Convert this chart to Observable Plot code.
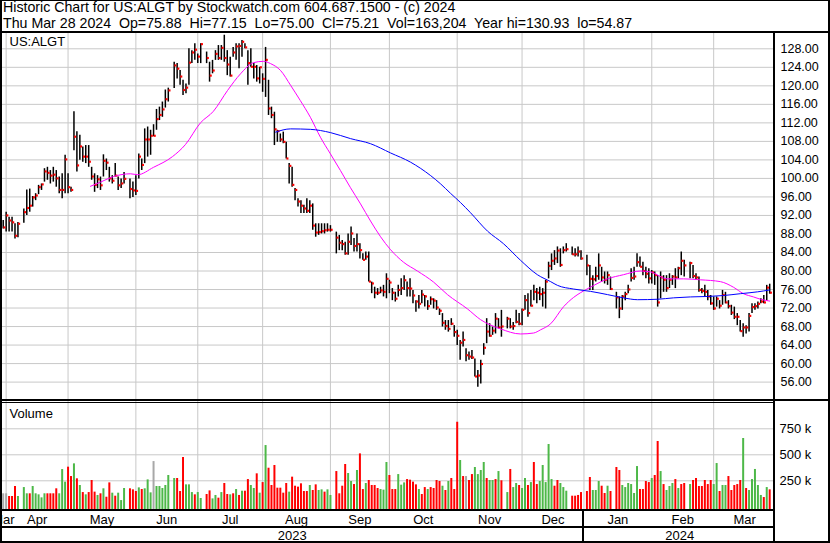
<!DOCTYPE html>
<html><head><meta charset="utf-8">
<script src="https://cdn.jsdelivr.net/npm/d3@7"></script>
<script src="https://cdn.jsdelivr.net/npm/@observablehq/plot@0.6"></script>
<style>
body{margin:0;background:#fff;}
#chart{position:relative;width:830px;height:543px;background:#fff;font-family:"Liberation Sans",Arial,sans-serif;overflow:hidden;}
#hdr{position:absolute;left:3px;top:-1px;font-size:14.2px;line-height:16px;white-space:pre;color:#000;}
.ln{position:absolute;background:#000;}
#price{position:absolute;left:0;top:31px;}
#vol{position:absolute;left:0;top:401px;}
</style></head><body>
<div id="chart">
<div id="hdr">Historic Chart for US:ALGT by Stockwatch.com 604.687.1500 - (c) 2024
Thu Mar 28 2024  Op=75.88  Hi=77.15  Lo=75.00  Cl=75.21  Vol=163,204  Year hi=130.93  lo=54.87</div>
<div id="price"></div><div id="vol"></div>
</div>
<script>
// ---- DATA (one entry per weekday from Thu Mar 30 2023 to Thu Mar 28 2024; null = market holiday)
const high = [
90.9,92.7,91.6,91.6,90.2,90.5,null,93.4,97.5,97.7,
96.1,96.7,98.5,98.8,102.1,102.4,101.7,102.4,101.7,100.3,
101.0,105.0,101.0,98.1,114.4,110.1,109.3,106.8,107.1,107.1,
102.4,101.0,100.6,100.3,105.1,104.2,102.4,100.6,103.2,100.3,
99.9,101.3,null,99.9,99.2,100.6,105.3,104.2,110.7,111.1,
110.4,111.6,114.9,115.4,116.5,119.1,119.5,null,125.1,124.8,
123.3,121.2,120.4,128.0,127.6,129.1,126.9,129.1,null,127.3,
125.1,125.5,127.6,128.7,128.7,130.93,127.6,126.2,128.3,129.1,
129.1,129.8,129.1,127.6,128.0,124.8,124.4,124.0,122.6,128.3,
121.2,115.4,114.3,110.4,109.6,110.0,107.8,103.2,102.4,97.8,
95.6,95.2,94.2,95.6,95.2,94.5,90.2,90.2,90.2,90.2,
90.2,89.8,null,88.4,87.7,86.6,86.2,88.0,89.5,87.0,
88.0,85.9,83.7,84.1,84.1,77.6,76.5,76.2,76.5,76.9,
79.4,78.0,76.2,75.4,76.9,78.3,79.0,77.6,78.3,75.8,
73.6,74.7,75.8,74.7,73.6,74.4,74.0,73.6,71.8,70.8,
69.3,69.3,69.7,68.2,67.2,65.0,66.8,63.2,62.5,62.8,
61.0,58.5,60.7,64.3,69.7,68.6,67.9,70.8,69.7,71.5,
null,70.0,69.7,68.9,71.5,70.8,71.8,74.7,75.1,75.8,
76.9,76.2,76.5,76.2,78.0,81.9,83.7,84.4,85.2,84.8,
85.2,85.9,null,85.2,84.8,85.2,84.4,null,83.4,81.2,
79.0,80.8,83.7,80.8,79.8,79.8,78.7,null,75.4,74.4,
74.7,75.4,76.9,80.5,80.8,83.7,83.0,81.9,80.8,80.5,
80.1,79.8,79.0,79.8,79.0,79.0,79.4,79.0,80.5,80.8,
84.1,82.3,null,81.9,81.2,79.4,78.7,76.2,76.9,75.8,
74.7,74.4,74.4,73.6,75.8,75.4,73.6,72.6,72.2,70.8,
69.3,68.6,68.2,70.8,72.9,72.9,73.3,74.0,74.7,76.9,
77.15];
const low = [
89.1,88.4,88.4,88.4,86.9,87.2,null,90.3,92.0,92.7,
93.8,95.2,96.5,97.4,99.2,99.6,98.8,99.2,98.1,96.7,
95.6,96.7,96.7,97.0,106.0,101.4,103.9,103.5,103.2,102.4,
99.6,97.0,97.8,97.4,100.3,101.7,99.2,98.8,100.3,97.4,
97.8,98.8,null,95.6,95.9,96.3,99.9,101.7,103.2,104.6,
105.0,109.0,110.4,112.5,113.2,115.2,116.5,null,119.4,121.5,
120.1,117.9,118.3,120.1,124.8,125.5,124.8,124.8,null,124.8,
120.8,122.6,125.5,125.5,125.5,125.1,122.2,121.9,126.2,125.5,
123.7,126.2,128.0,120.1,124.0,121.5,120.8,120.4,118.6,117.5,
113.6,112.9,107.1,107.8,107.8,107.5,104.2,98.8,98.1,95.2,
93.8,92.4,92.4,92.4,92.4,88.8,87.3,87.7,88.0,88.0,
88.4,88.4,null,83.7,84.4,84.4,83.4,83.4,85.5,84.1,
84.1,82.6,82.3,82.3,77.6,75.1,74.0,74.7,75.1,74.4,
74.0,75.1,73.6,73.3,74.4,74.7,75.8,74.4,74.4,72.9,
71.1,71.8,72.9,72.2,71.5,72.6,71.8,71.5,70.4,67.9,
67.2,66.8,68.2,65.7,63.9,60.7,63.6,60.4,60.7,60.9,
57.1,54.87,55.6,61.8,64.3,65.7,66.1,66.4,67.5,65.7,
null,67.5,67.5,67.2,68.6,68.2,68.2,71.5,70.0,72.2,
73.6,72.9,73.6,72.2,71.8,78.3,80.1,81.2,81.6,80.8,
83.7,84.1,null,83.4,83.0,83.0,82.3,null,79.0,75.8,
75.8,77.6,78.0,77.6,77.2,76.9,75.8,null,71.8,69.7,
71.5,73.6,75.1,77.6,78.0,80.8,80.8,79.0,78.3,77.2,
77.2,76.9,72.2,74.0,75.4,75.4,76.2,76.9,76.2,78.3,
79.0,78.7,null,78.3,78.3,78.0,75.4,75.1,74.4,73.6,
72.6,71.5,72.2,71.8,72.6,72.9,71.8,70.4,69.5,68.2,
66.8,65.7,66.4,66.8,70.8,71.5,71.8,72.9,72.9,73.5,
75.0];
const close = [
89.3,91.9,90.8,90.4,87.5,90.1,null,92.6,93.5,94.0,
95.8,96.2,98.0,98.6,101.4,101.1,100.5,100.7,99.9,97.4,
97.4,104.0,98.0,97.4,108.9,102.7,106.8,104.6,104.6,103.5,
100.3,98.5,99.7,98.4,103.7,103.3,99.9,99.4,100.5,98.4,
98.8,99.8,null,97.6,97.3,97.2,104.6,102.8,108.3,108.3,
109.1,109.1,112.7,113.6,114.8,117.0,118.9,null,124.3,123.6,
121.9,119.0,119.5,124.9,127.1,127.7,126.2,128.9,null,125.9,
122.1,123.2,126.8,125.9,128.1,125.9,124.5,122.1,127.1,128.4,
128.5,129.4,128.2,124.8,124.0,124.0,121.5,123.9,121.4,125.5,
115.0,113.6,110.5,110.1,108.3,107.8,104.2,102.6,98.5,97.4,
94.9,94.0,93.4,92.9,94.0,89.7,88.2,88.3,88.5,88.7,
88.8,88.8,null,87.1,86.0,85.7,83.7,86.2,88.0,85.3,
85.7,84.4,82.3,83.0,77.6,77.2,75.2,75.2,75.7,75.4,
78.2,77.4,75.2,73.9,75.8,76.2,77.9,76.2,76.1,74.6,
73.3,72.8,74.8,74.4,72.3,73.8,73.5,72.0,71.3,68.7,
68.0,67.4,68.5,66.7,65.9,64.4,65.0,61.7,61.4,61.2,
57.1,57.3,59.8,63.3,66.8,65.9,67.0,69.6,67.7,67.9,
null,69.6,67.9,68.0,68.9,68.5,71.5,73.6,70.8,72.4,
75.4,75.2,74.9,75.2,77.6,81.0,82.1,82.6,84.3,81.2,
84.4,84.6,null,83.5,83.5,84.1,82.6,null,81.1,78.2,
78.1,78.8,81.1,78.5,78.0,79.0,76.0,null,74.2,71.8,
74.4,74.9,75.9,78.4,78.7,81.8,80.8,79.9,79.3,78.3,
79.6,79.0,73.1,78.5,78.0,76.2,78.0,78.7,78.5,80.5,
82.1,81.1,null,81.6,78.8,78.5,75.8,75.6,75.4,74.4,
72.9,71.8,73.9,72.4,74.7,73.1,72.3,70.9,70.0,70.0,
66.9,67.7,67.7,70.2,72.1,72.3,72.8,73.3,73.1,76.3,
75.21];
// volume in thousands of shares
const volume = [
125,125,99,99,195,99,null,185,125,125,
195,125,115,86,125,125,125,125,173,125,
358,237,381,291,413,269,205,137,115,137,
253,141,109,125,173,92,230,131,102,131,
60,176,null,173,163,147,182,166,173,259,
134,435,195,195,176,205,301,null,272,272,
147,474,211,211,137,115,137,80,null,118,
153,76,109,83,137,224,118,115,125,166,
109,150,150,262,205,176,317,131,233,589,
371,205,397,179,179,131,224,141,285,198,
189,221,147,147,205,157,211,157,163,141,
163,109,null,339,125,198,407,320,243,214,
349,509,166,224,253,205,205,176,166,160,
426,301,166,166,310,208,230,262,256,237,
211,166,118,185,166,185,176,253,243,198,
157,243,272,166,813,445,291,291,253,310,
378,310,349,426,272,253,253,262,339,250,
null,137,359,185,224,205,176,272,205,233,
426,214,243,397,233,599,262,198,253,224,
185,150,null,102,102,109,137,null,147,282,
157,157,243,198,128,198,147,null,378,349,
205,185,224,214,128,387,166,166,243,233,
272,301,628,339,214,157,195,224,262,176,
214,224,null,214,253,272,195,195,253,214,
253,214,416,147,205,205,291,157,205,214,
253,657,176,157,262,359,205,109,89,185,
163];
// volume bar colour per day: g = up, r = down, n = unchanged, - = holiday
const volumeDir = (
"nnrrrg-ggr"+"gggggrrrrg"+"ggrrgrgrgr"+"rrgrgrrgrg"+"gg-rrrgrgg"+
"gnggggg-gr"+"rrgggrgg-r"+"rggrgrrgrg"+"rgrrggrgrg"+"rrrrrrrgrr"+
"rrrrgrrggr"+"gg-rrrrggr"+"grrgrrrrgg"+"grrrgggrrr"+"rgrrgrrrrg"+
"rgrrrgrnrr"+"ggggrggrgr"+"-grggrggrg"+"rrgggggrrg"+"gg-rrrr-rr"+
"gggrrgr-rr"+"ggggggrrrr"+"grrgrgggrg"+"rr-grrrrrr"+"rggrggrrrr"+
"rgrgggggrg"+"r").split("");
// moving averages: weekday index and value
const maShortIdx = [29.6,33,37.4,43.2,45.6,51,57.4,61.8,66.9,71.3,76.1,80.5,84.9,88.3,90.7,94.1,97.5,100.8,104.2,107.6,111,114.4,117.8,121.2,124.6,128,131.4,135.8,140.5,146,150.7,157.5,161.9,168.7,175.5,179.9,182.3,185.7,190.1,193.5,195.8,199.2,205,210.4,216.2,219.6,225.3,230.8,236.5,243.3,247.7,251.1,254.5,256.9,260];
const maShortVal = [98.3,99.2,100.4,101.0,100.8,102.4,104.7,107.3,112.0,114.5,119.0,122.6,125.0,125.3,124.8,123.3,120.1,116.8,113.2,108.9,105.3,101.7,98.0,94.5,90.8,87.4,84.6,81.9,80.0,77.6,74.9,71.8,69.5,67.5,66.4,66.6,67.3,68.6,72.3,74.3,75.3,76.5,78.3,79.2,80.0,79.8,78.3,78.3,78.1,77.7,76.5,75.1,74.4,73.9,73.5];
const maLongIdx = [92.4,97.5,104.2,111,117.8,124.6,131.4,138.2,145,148.4,151.7,155.1,158.5,164.3,169.7,175.5,181.2,185.7,188,193.5,199.2,205,210.4,215.2,222,227.4,233.1,239,244.3,250.1,255.9,260];
const maLongVal = [110.0,110.7,110.6,109.9,108.6,107.5,105.5,103.5,100.6,98.8,96.8,94.8,92.6,88.6,85.9,82.3,79.2,77.7,76.9,76.1,75.6,74.9,74.2,73.8,73.9,74.2,74.4,74.5,74.7,75.1,75.5,75.9];
const priceTicks = [56,60,64,68,72,76,80,84,88,92,96,100,104,108,112,116,120,124,128];
const volumeTicks = [250,500,750];
const monthNames = ["Apr","May","Jun","Jul","Aug","Sep","Oct","Nov","Dec","Jan","Feb","Mar"];
const monthFirst = ["2023-04-01","2023-05-01","2023-06-01","2023-07-01","2023-08-01","2023-09-01","2023-10-01","2023-11-01","2023-12-01","2024-01-01","2024-02-01","2024-03-01"];
const firstMonthName = "Mar";
const yearNames = ["2023","2024"];

// ---- helpers
const START = Date.UTC(2023, 2, 30);
function weekdayIndex(iso) { // weekend dates map to the previous Friday
  const end = Date.parse(iso + "T00:00:00Z");
  let i = -1;
  for (let t = START; t <= end; t += 864e5) {
    const w = new Date(t).getUTCDay();
    if (w !== 0 && w !== 6) i++;
  }
  return i;
}
const X0 = -0.916, X1 = 261.97;
const GRID = "#c8c8c8";
const FONT = '"Liberation Sans", Arial, sans-serif';

const bars = close.map((c, i) => ({i, h: high[i], l: low[i], c})).filter(d => d.c != null);
const vols = volume.map((v, i) => ({i, v, d: volumeDir[i]})).filter(d => d.v != null);
const maShort = maShortIdx.map((i, k) => ({i, v: maShortVal[k]}));
const maLong = maLongIdx.map((i, k) => ({i, v: maLongVal[k]}));
const grid = monthFirst.map(weekdayIndex);
const monthLabels = [{x: (X0 + grid[0]) / 2, t: firstMonthName}].concat(
  monthNames.map((t, k) => ({x: (grid[k] + (k + 1 < grid.length ? grid[k + 1] : X1)) / 2, t})));
const janIdx = grid[monthNames.indexOf("Jan")];
const yearLabels = [{x: (X0 + janIdx) / 2, t: yearNames[0]}, {x: (janIdx + X1) / 2, t: yearNames[1]}];
const dirColor = {g: "#4db848", r: "#ff0000", n: "#a8a8a8"};

const price = Plot.plot({
  width: 830, height: 370,
  marginLeft: 0, marginRight: 55, marginTop: 0, marginBottom: 0,
  style: {fontFamily: FONT, fontSize: "13px", background: "transparent", color: "#000"},
  x: {domain: [X0, X1], axis: null},
  y: {domain: [51.81, 131.737], axis: null},
  marks: [
    Plot.ruleY(priceTicks, {stroke: GRID, strokeWidth: 1}),
    Plot.ruleX(grid, {stroke: GRID, strokeWidth: 1}),
    Plot.text(["US:ALGT"], {frameAnchor: "top-left", dx: 9, dy: 5, lineAnchor: "top", textAnchor: "start", fill: "#000"}),
    Plot.ruleX(bars, {x: "i", y1: "l", y2: "h", stroke: "#000", strokeWidth: 1.5}),
    Plot.rect(bars, {x1: d => d.i + 0.22, x2: d => d.i + 0.92, y1: d => d.c - 0.23, y2: d => d.c + 0.23, fill: "#ff0000"}),
    Plot.line(maShort, {x: "i", y: "v", stroke: "#ff00ff", strokeWidth: 1, curve: "monotone-x"}),
    Plot.line(maLong, {x: "i", y: "v", stroke: "#0000ff", strokeWidth: 1, curve: "monotone-x"}),
    Plot.text(priceTicks, {y: d => d, frameAnchor: "right", dx: 5, textAnchor: "start", text: d => d.toFixed(2), fontSize: 12.5, fill: "#000"})
  ]
});
document.getElementById("price").appendChild(price);

const vol = Plot.plot({
  width: 830, height: 142,
  marginLeft: 0, marginRight: 55, marginTop: 0, marginBottom: 34,
  style: {fontFamily: FONT, fontSize: "13px", background: "transparent", color: "#000"},
  x: {domain: [X0, X1], axis: null},
  y: {domain: [-26, 1012.5], axis: null},
  color: {type: "identity"},
  marks: [
    Plot.ruleY(volumeTicks, {stroke: GRID, strokeWidth: 1}),
    Plot.ruleX(grid, {stroke: GRID, strokeWidth: 1}),
    Plot.ruleX(vols, {x: "i", y1: -26, y2: "v", stroke: d => dirColor[d.d], strokeWidth: 2}),
    Plot.text(["Volume"], {frameAnchor: "top-left", dx: 9, dy: 7, lineAnchor: "top", textAnchor: "start", fill: "#000"}),
    Plot.text(volumeTicks, {y: d => d, frameAnchor: "right", dx: 4, textAnchor: "start", text: d => d + " k", fill: "#000"}),
    Plot.text(monthLabels, {x: "x", frameAnchor: "bottom", dy: 5, lineAnchor: "top", text: "t", fill: "#000"}),
    Plot.text(yearLabels, {x: "x", frameAnchor: "bottom", dy: 21, lineAnchor: "top", text: "t", fill: "#000"})
  ]
});
document.getElementById("vol").appendChild(vol);

// chart frame (decoration)
const frame = [
  [0,0,830,1],[0,31,830,2],[0,0,2,543],[828,0,2,543],[773,31,2,512],
  [0,399,830,2],[0,402,775,1],[0,509,775,2],[0,526,775,2],[0,541,830,2],[582,509,2,34]
];
const chart = document.getElementById("chart");
for (const [l,t,w,h] of frame) {
  const e = document.createElement("div");
  e.className = "ln";
  e.style.cssText = `left:${l}px;top:${t}px;width:${w}px;height:${h}px`;
  chart.appendChild(e);
}
</script>
</body></html>
